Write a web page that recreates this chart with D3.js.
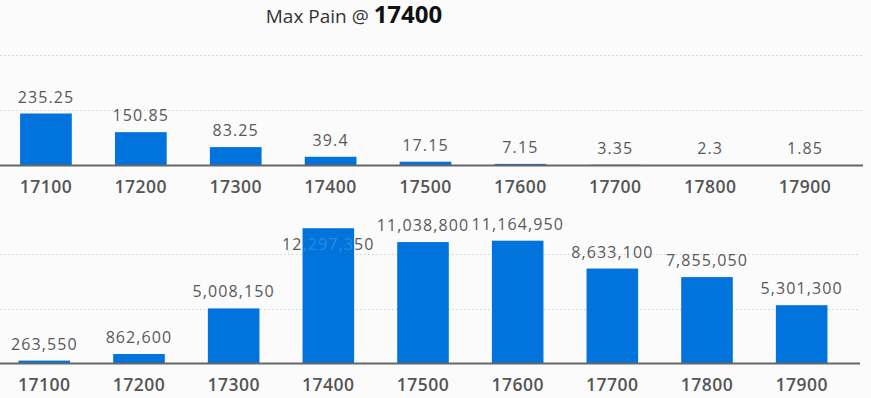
<meta charset="utf-8">
<title>Max Pain</title>
<style>
  body { margin: 0; background: #fbfbfb; }
  svg { display: block; font-family: "Open Sans", sans-serif; }
</style>
<svg width="871" height="398"></svg>
<script src="https://d3js.org/d3.v7.min.js"></script>
<script>

// strikes along the x axis
var strikes = ["17100", "17200", "17300", "17400", "17500", "17600", "17700", "17800", "17900"];
// top panel - option price per strike
var premiums = [235.25, 150.85, 83.25, 39.4, 17.15, 7.15, 3.35, 2.3, 1.85];
// bottom panel - total pain per strike
var painValues = [263550, 862600, 5008150, 12297350, 11038800, 11164950, 8633100, 7855050, 5301300];
var maxPainStrike = "17400";
var premiumTicks = [250, 500];
var painTicks = [5000000, 10000000];

var svg = d3.select("svg");
var barColor = "#0073dc";

// title
var title = svg.append("text")
    .attr("x", 354)
    .attr("y", 23)
    .attr("text-anchor", "middle");
title.append("tspan")
    .attr("font-size", 19)
    .attr("fill", "#333")
    .text("Max Pain @ ");
title.append("tspan")
    .attr("font-size", 24)
    .attr("font-weight", 700)
    .attr("fill", "#111")
    .text(maxPainStrike);

var panelCount = 0;

function drawPanel(opts) {
    var g = svg.append("g");
    panelCount++;

    var x = d3.scaleBand()
        .domain(strikes)
        .range(opts.xRange)
        .paddingInner(0.455)
        .paddingOuter(0.2275);

    var y = d3.scaleLinear()
        .domain(opts.yDomain)
        .range([opts.base, opts.yTop]);

    function labelY(d) {
        var ly = y(d) - 11;
        // no room above the plot: push the label inside the bar
        if (ly - 11 < opts.plotTop) ly = y(d) + 22;
        return ly;
    }
    function cx(d, i) { return x(strikes[i]) + x.bandwidth() / 2; }

    // dotted grid
    g.append("g")
        .selectAll("line")
        .data(opts.ticks)
        .enter()
        .append("line")
        .attr("x1", 0)
        .attr("x2", opts.axisEnd)
        .attr("y1", function(d) { return Math.round(y(d)) + 0.5; })
        .attr("y2", function(d) { return Math.round(y(d)) + 0.5; })
        .attr("stroke", "#cfcfcf")
        .attr("stroke-dasharray", "1.5,2.5");

    // value labels (drawn under the bars, like the original)
    g.append("g")
        .selectAll("text")
        .data(opts.values)
        .enter()
        .append("text")
        .attr("x", cx)
        .attr("y", labelY)
        .attr("text-anchor", "middle")
        .attr("font-size", 16)
        .attr("letter-spacing", 1.1)
        .attr("fill", "#595959")
        .text(opts.format);

    var clipId = "bars" + panelCount;
    var clip = svg.append("clipPath").attr("id", clipId);

    g.append("g")
        .selectAll("rect")
        .data(opts.values)
        .enter()
        .append("rect")
        .attr("x", function(d, i) { return x(strikes[i]); })
        .attr("width", x.bandwidth())
        .attr("y", function(d) { return y(d); })
        .attr("height", function(d) { return opts.base - y(d); })
        .attr("fill", barColor)
        .each(function() {
            clip.append("rect")
                .attr("x", this.getAttribute("x"))
                .attr("y", this.getAttribute("y"))
                .attr("width", this.getAttribute("width"))
                .attr("height", this.getAttribute("height"));
        });

    // faint ghost of labels that sit behind a bar
    g.append("g")
        .attr("clip-path", "url(#" + clipId + ")")
        .selectAll("text")
        .data(opts.values)
        .enter()
        .append("text")
        .attr("x", cx)
        .attr("y", labelY)
        .attr("text-anchor", "middle")
        .attr("font-size", 16)
        .attr("letter-spacing", 1.1)
        .attr("fill", "#fff")
        .attr("fill-opacity", 0.18)
        .text(opts.format);

    // axis line
    g.append("line")
        .attr("x1", 0)
        .attr("x2", opts.axisEnd)
        .attr("y1", opts.base)
        .attr("y2", opts.base)
        .attr("stroke", "#666")
        .attr("stroke-width", 2);

    var axis = g.append("g")
        .attr("transform", "translate(0," + opts.base + ")")
        .call(d3.axisBottom(x).tickSize(0).tickPadding(15));
    axis.select(".domain").remove();
    axis.selectAll("text")
        .attr("font-family", "Open Sans, sans-serif")
        .attr("font-size", 17.5)
        .attr("font-weight", 600)
        .attr("letter-spacing", 0.5)
        .attr("fill", "#555");
}

drawPanel({
    values: premiums,
    xRange: [-1.5, 852.5],
    axisEnd: 863,
    base: 165.5,
    yTop: 55,
    yDomain: [0, 500],
    plotTop: 40,
    ticks: premiumTicks,
    format: function(d) { return String(d); }
});

drawPanel({
    values: painValues,
    xRange: [-3, 849],
    axisEnd: 860,
    base: 363.5,
    yTop: 253.5,
    yDomain: [0, 10000000],
    plotTop: 208,
    ticks: painTicks,
    format: d3.format(",")
});

</script>
